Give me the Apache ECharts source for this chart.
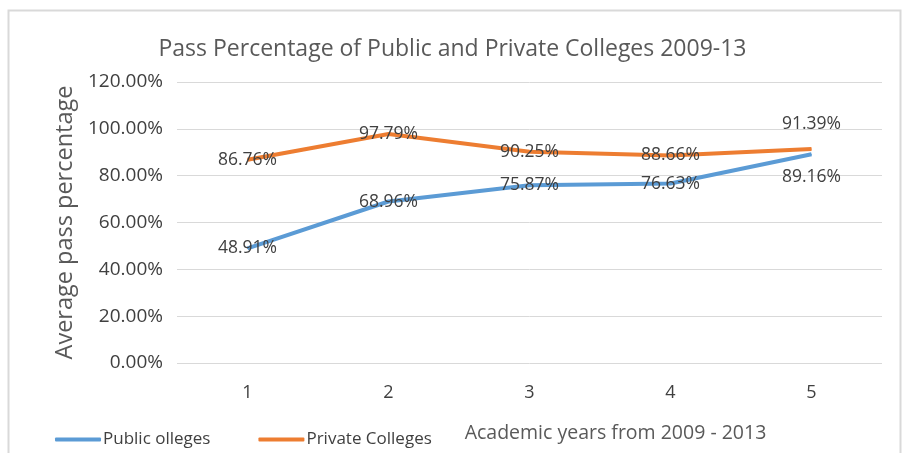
<!DOCTYPE html>
<html>
<head>
<meta charset="utf-8">
<script src="https://cdn.jsdelivr.net/npm/echarts@6/dist/echarts.min.js"></script>
<style>html,body{margin:0;padding:0;background:#fff;}#c{width:905px;height:453px;}</style>
</head>
<body>
<div id="c"></div>
<script>
const categories = ['1', '2', '3', '4', '5'];
const publicColleges = [48.91, 68.96, 75.87, 76.63, 89.16];
const privateColleges = [86.76, 97.79, 90.25, 88.66, 91.39];
const yTicks = { min: 0, max: 120, interval: 20 };
const FONT = '"Open Sans", sans-serif';
const TXT = '#404040';

const chart = echarts.init(document.getElementById('c'), null, { renderer: 'canvas' });
function lbl(pos, dist) {
  return { show: true, position: pos, distance: dist, color: TXT, fontFamily: FONT, fontSize: 17.5,
    formatter: p => p.value.toFixed(2) + '%' };
}
chart.setOption({
  animation: false,
  backgroundColor: '#fff',
  graphic: [{
    type: 'rect', left: 6, top: 8, shape: { width: 892, height: 460 },
    style: { fill: 'none', stroke: '#d9d9d9', lineWidth: 2 }, silent: true, z: -1
  }],
  title: {
    text: 'Pass Percentage of Public and Private Colleges 2009-13',
    left: 'center', top: 33,
    textStyle: { fontFamily: FONT, fontSize: 23, fontWeight: 'normal', color: '#595959' }
  },
  legend: {
    left: 50, top: 426, itemWidth: 46, itemHeight: 4, itemGap: 48,
    icon: 'roundRect',
    textStyle: { fontFamily: FONT, fontSize: 17, color: TXT, padding: [0, 0, 0, -3] },
    data: ['Public olleges', 'Private Colleges']
  },
  grid: { left: 177, right: 23, top: 82, bottom: 90, containLabel: false },
  xAxis: {
    type: 'category', data: categories, boundaryGap: true,
    axisLine: { show: false }, axisTick: { show: false },
    axisLabel: { color: TXT, fontFamily: FONT, fontSize: 18, margin: 21 },
    name: 'Academic years from 2009 - 2013', nameLocation: 'middle', nameGap: 60,
    nameTextStyle: { color: '#595959', fontFamily: FONT, fontSize: 19.5, padding: [0, 0, 0, 172] }
  },
  yAxis: {
    type: 'value', min: yTicks.min, max: yTicks.max, interval: yTicks.interval,
    axisLine: { show: false }, axisTick: { show: false },
    splitLine: { lineStyle: { color: '#d9d9d9', width: 1 } },
    axisLabel: { color: TXT, fontFamily: FONT, fontSize: 19, margin: 14,
      formatter: v => v.toFixed(2) + '%' },
    name: 'Average pass percentage', nameLocation: 'middle', nameGap: 88, nameRotate: 90,
    nameTextStyle: { color: '#595959', fontFamily: FONT, fontSize: 23.5 }
  },
  series: [
    {
      name: 'Public olleges', type: 'line', data: publicColleges.map((v, i) => ({
        value: v, label: i === 4 ? lbl('bottom', 13) : lbl('inside', 0) })),
      symbol: 'circle', symbolSize: 1, showSymbol: true,
      lineStyle: { color: '#5B9BD5', width: 4 }, itemStyle: { color: '#5B9BD5' },
      label: { show: true }, z: 2
    },
    {
      name: 'Private Colleges', type: 'line', data: privateColleges.map((v, i) => ({
        value: v, label: i === 4 ? lbl('top', 15) : lbl('inside', 0) })),
      symbol: 'circle', symbolSize: 1, showSymbol: true,
      lineStyle: { color: '#ED7D31', width: 4 }, itemStyle: { color: '#ED7D31' },
      label: { show: true }, z: 2
    }
  ]
});
</script>
</body>
</html>
